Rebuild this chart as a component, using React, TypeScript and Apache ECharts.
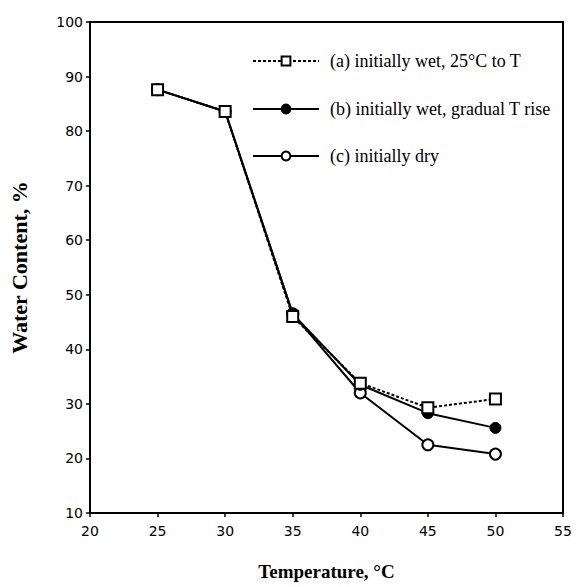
import React, { useEffect, useRef } from "react";
import * as echarts from "echarts";

const temperatures = [25, 30, 35, 40, 45, 50];
const seriesA = [87.6, 83.6, 46.0, 33.8, 29.3, 30.9];
const seriesB = [87.6, 83.6, 46.5, 33.5, 28.3, 25.6];
const seriesC = [87.6, 83.6, 46.5, 32.0, 22.5, 20.8];
const names = [
  "(a) initially wet, 25°C to T",
  "(b) initially wet, gradual T rise",
  "(c) initially dry",
];

const pair = (ys: number[]) => temperatures.map((t, i) => [t, ys[i]]);

export default function App() {
  const ref = useRef<HTMLDivElement>(null);
  useEffect(() => {
    const chart = echarts.init(ref.current!, null, { renderer: "svg" });
    const legendText = {
      fontFamily: "Liberation Serif",
      fontSize: 18,
      fontWeight: "normal" as const,
      color: "#000",
      padding: [0, 0, 0, 6],
    };
    const mkLegend = (name: string, top: number) => ({
      data: [name],
      left: 247,
      top,
      itemWidth: 66,
      itemHeight: 11,
      itemGap: 0,
      textStyle: legendText,
      selectedMode: false,
      inactiveColor: "#000",
    });
    chart.setOption({
      animation: false,
      backgroundColor: "#fff",
      grid: {
        left: 88,
        right: 13,
        top: 22,
        bottom: 74,
        show: true,
        borderColor: "#000",
        borderWidth: 2,
      },
      legend: [mkLegend(names[0], 47), mkLegend(names[1], 95), mkLegend(names[2], 142)],
      xAxis: {
        type: "value",
        min: 20,
        max: 55,
        interval: 5,
        name: "Temperature, °C",
        nameLocation: "middle",
        nameGap: 49,
        nameTextStyle: {
          fontFamily: "Liberation Serif",
          fontSize: 19,
          fontWeight: "bold",
          color: "#000",
        },
        axisLine: { lineStyle: { color: "#000", width: 2 } },
        axisTick: { show: true, length: 4, lineStyle: { color: "#000", width: 1.5 } },
        axisLabel: { fontFamily: "DejaVu Sans", fontSize: 14, color: "#000", margin: 11 },
        splitLine: { show: false },
      },
      yAxis: {
        type: "value",
        min: 10,
        max: 100,
        interval: 10,
        name: "Water Content, %",
        nameLocation: "middle",
        nameGap: 60,
        nameRotate: 90,
        nameTextStyle: {
          fontFamily: "Liberation Serif",
          fontSize: 22,
          fontWeight: "bold",
          color: "#000",
        },
        axisLine: { lineStyle: { color: "#000", width: 2 } },
        axisTick: { show: true, length: 4, lineStyle: { color: "#000", width: 1.5 } },
        axisLabel: { fontFamily: "DejaVu Sans", fontSize: 14, color: "#000", margin: 7 },
        splitLine: { show: false },
      },
      series: [
        {
          name: names[2],
          type: "line",
          data: pair(seriesC),
          symbol: "circle",
          symbolSize: 11,
          itemStyle: { color: "#fff", borderColor: "#000", borderWidth: 2 },
          lineStyle: { color: "#000", width: 2, type: "solid" },
          z: 2,
        },
        {
          name: names[1],
          type: "line",
          data: pair(seriesB),
          symbol: "circle",
          symbolSize: 11,
          itemStyle: { color: "#000", borderColor: "#000", borderWidth: 1 },
          lineStyle: { color: "#000", width: 2, type: "solid" },
          z: 3,
        },
        {
          name: names[0],
          type: "line",
          data: pair(seriesA),
          symbol: "rect",
          symbolSize: 11,
          itemStyle: { color: "#fff", borderColor: "#000", borderWidth: 2 },
          lineStyle: { color: "#000", width: 2, type: [3, 2] },
          z: 4,
        },
      ],
    });
    return () => chart.dispose();
  }, []);
  return (
    <div
      ref={ref}
      style={{ position: "fixed", left: 0, top: 0, width: 576, height: 587, background: "#fff" }}
    />
  );
}
